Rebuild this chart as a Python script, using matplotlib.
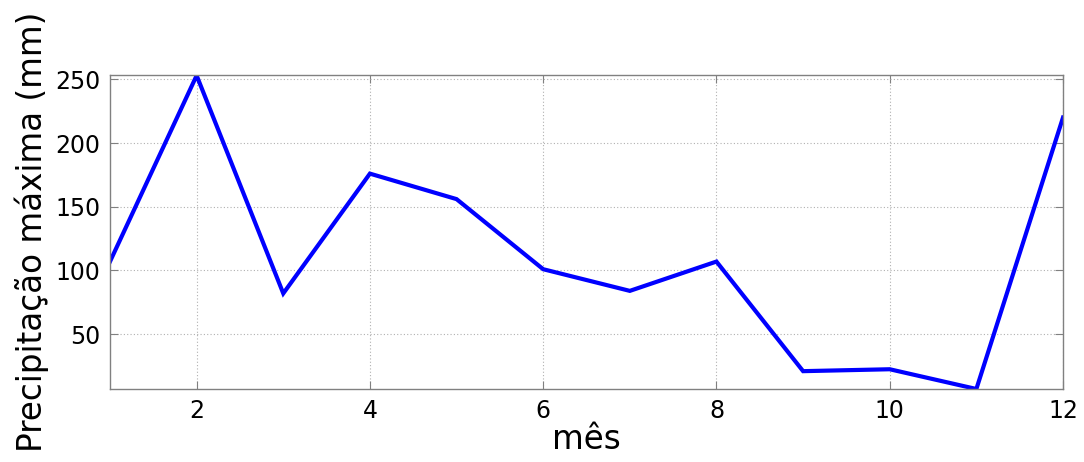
import matplotlib
matplotlib.use("Agg")
import matplotlib.pyplot as plt

months = [1, 2, 3, 4, 5, 6, 7, 8, 9, 10, 11, 12]
precip = [107, 253, 82, 176, 156, 101, 84, 107, 21, 22.5, 7, 220]
xticks = [2, 4, 6, 8, 10, 12]
yticks = [50, 100, 150, 200, 250]

plt.rcParams['font.family'] = ['DejaVu Sans']
fig = plt.figure(figsize=(10.84, 4.62), dpi=100)
ax = fig.add_axes([110/1084, 1 - 389/462, (1063-110)/1084, (389-75.5)/462])
ax.plot(months, precip, color='#0000ff', lw=3.0, solid_joinstyle='miter')
ax.set_xlim(1, 12)
ax.set_ylim(min(precip), max(precip))
ax.set_xticks(xticks)
ax.set_yticks(yticks)
ax.grid(True, color='#b0b0b0', linestyle=(0, (1, 2)), linewidth=0.8)
for s in ax.spines.values():
    s.set_color('#808080')
    s.set_linewidth(1.0)
ax.tick_params(direction='in', top=True, right=True, length=6, color='#808080',
               labelsize=17, pad=7)
ax.set_xlabel('mês', fontsize=23.5, labelpad=0)
ax.set_ylabel('Precipitação máxima (mm)', fontsize=23.5, labelpad=4)
fig.savefig('out.png', dpi=100)
